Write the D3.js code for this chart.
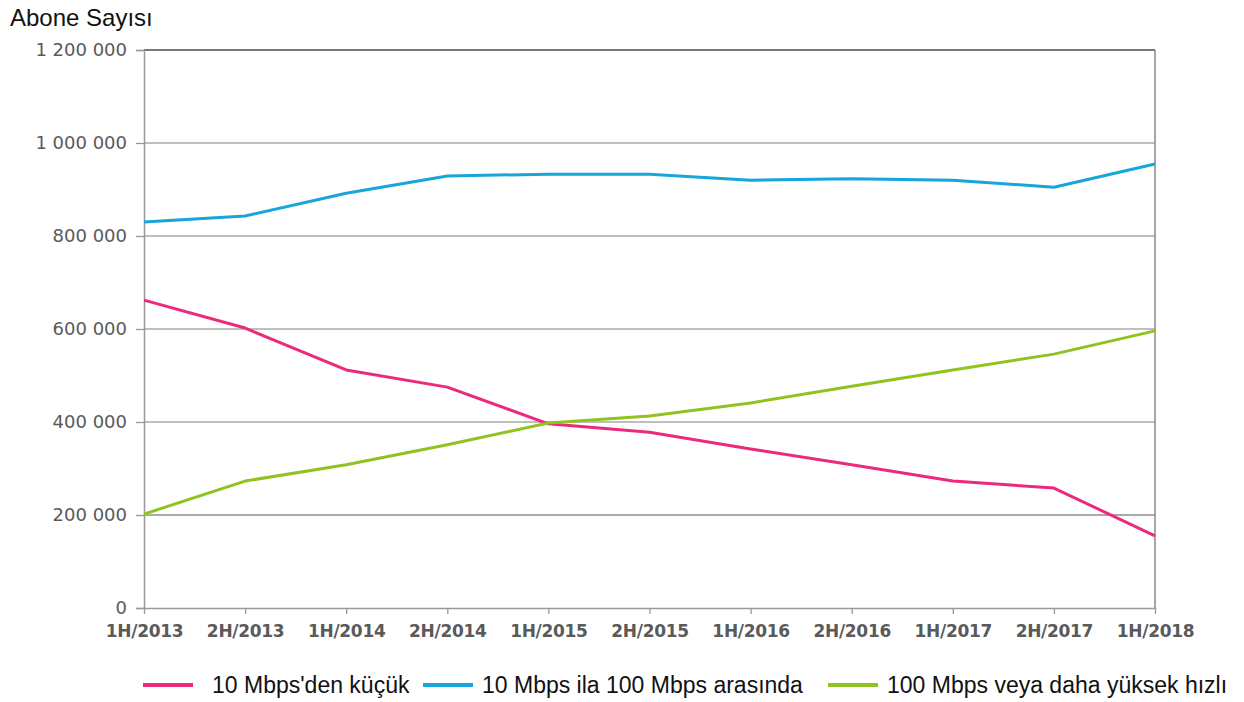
<!DOCTYPE html>
<meta charset="utf-8">
<style>
body { margin: 0; background: #fff; }
</style>
<body>
<script src="https://d3js.org/d3.v7.min.js"></script>
<script>
// half-year periods
var periods = ["1H/2013", "2H/2013", "1H/2014", "2H/2014", "1H/2015", "2H/2015",
               "1H/2016", "2H/2016", "1H/2017", "2H/2017", "1H/2018"];

var seriesNames = ["10 Mbps'den küçük", "10 Mbps ila 100 Mbps arasında", "100 Mbps veya daha yüksek hızlı"];
var seriesColors = ["#ec2a7c", "#16a6dc", "#8fc31f"];

var below10 = [662000, 602000, 512000, 475000, 396000, 378000, 342000, 308000, 273000, 258000, 155000];
var between10and100 = [830000, 843000, 892000, 929000, 933000, 933000, 920000, 923000, 920000, 905000, 955000];
var above100 = [202000, 273000, 308000, 351000, 398000, 413000, 441000, 477000, 512000, 546000, 596000];

var yTicks = [0, 200000, 400000, 600000, 800000, 1000000, 1200000];

var margin = {top: 50, right: 89, bottom: 94, left: 144};
var width = 1244 - margin.left - margin.right,
    height = 702 - margin.top - margin.bottom;

var svg = d3.select("body").append("svg")
    .attr("width", 1244)
    .attr("height", 702);

var g = svg.append("g")
    .attr("transform", "translate(" + margin.left + "," + margin.top + ")");

var x = d3.scalePoint().domain(periods).range([0, width]);
var y = d3.scaleLinear().domain([0, 1200000]).range([height, 0]);

var fmt = function(d) { return d3.format(",")(d).replace(/,/g, " "); };

// grid lines
g.selectAll(".grid")
    .data(yTicks.filter(function(d) { return d > 0; }))
    .enter().append("line")
    .attr("x1", 0).attr("x2", width)
    .attr("y1", function(d) { return y(d); })
    .attr("y2", function(d) { return y(d); })
    .attr("stroke", function(d) { return d === 1200000 ? "#777" : "#aaa"; })
    .attr("stroke-width", function(d) { return d === 1200000 || d === 200000 ? 2 : 1.3; });

// right border
g.append("line")
    .attr("x1", width).attr("x2", width)
    .attr("y1", 0).attr("y2", height)
    .attr("stroke", "#888").attr("stroke-width", 1.5);

// y axis
var yAxis = g.append("g")
    .call(d3.axisLeft(y).tickValues(yTicks).tickSize(8).tickPadding(9).tickFormat(fmt));
yAxis.select(".domain").attr("stroke", "#999").attr("stroke-width", 1.5);
yAxis.selectAll(".tick line").attr("stroke", "#999").attr("stroke-width", 1.3);
yAxis.selectAll("text")
    .attr("fill", "#5a5a5a")
    .style("font-family", "DejaVu Sans, sans-serif")
    .style("font-size", "18px");

// x axis
var xAxis = g.append("g")
    .attr("transform", "translate(0," + height + ")")
    .call(d3.axisBottom(x).tickSize(6).tickPadding(11).tickSizeOuter(0));
xAxis.select(".domain").attr("stroke", "#999").attr("stroke-width", 1.5);
xAxis.selectAll(".tick line").attr("stroke", "#999").attr("stroke-width", 1.3);
xAxis.selectAll("text")
    .attr("fill", "#5a5a5a")
    .style("font-family", "DejaVu Sans, sans-serif")
    .style("font-size", "17px")
    .style("font-weight", "bold")
    .style("letter-spacing", "-0.3px");

// lines
var line = d3.line()
    .x(function(d, i) { return x(periods[i]); })
    .y(function(d) { return y(d); });

[below10, between10and100, above100].forEach(function(vals, i) {
  g.append("path")
      .datum(vals)
      .attr("fill", "none")
      .attr("stroke", seriesColors[i])
      .attr("stroke-width", 3)
      .attr("stroke-linejoin", "round")
      .attr("d", line);
});

// title
svg.append("text")
    .attr("x", 10).attr("y", 26)
    .style("font-family", "Liberation Sans, Arial, sans-serif")
    .style("font-size", "24px")
    .attr("fill", "#111")
    .text("Abone Sayısı");

// legend
var legendX = [143, 423, 828];
var legend = svg.selectAll(".legend")
    .data(seriesNames)
    .enter().append("g")
    .attr("transform", function(d, i) { return "translate(" + legendX[i] + ",685)"; });

legend.append("line")
    .attr("x1", 0).attr("x2", 50)
    .attr("stroke", function(d, i) { return seriesColors[i]; })
    .attr("stroke-width", 4);

legend.append("text")
    .attr("x", function(d, i) { return i === 0 ? 69 : 59; })
    .attr("y", 8)
    .style("font-family", "Liberation Sans, Arial, sans-serif")
    .style("font-size", "23px")
    .attr("fill", "#111")
    .text(function(d) { return d; });
</script>
</body>
